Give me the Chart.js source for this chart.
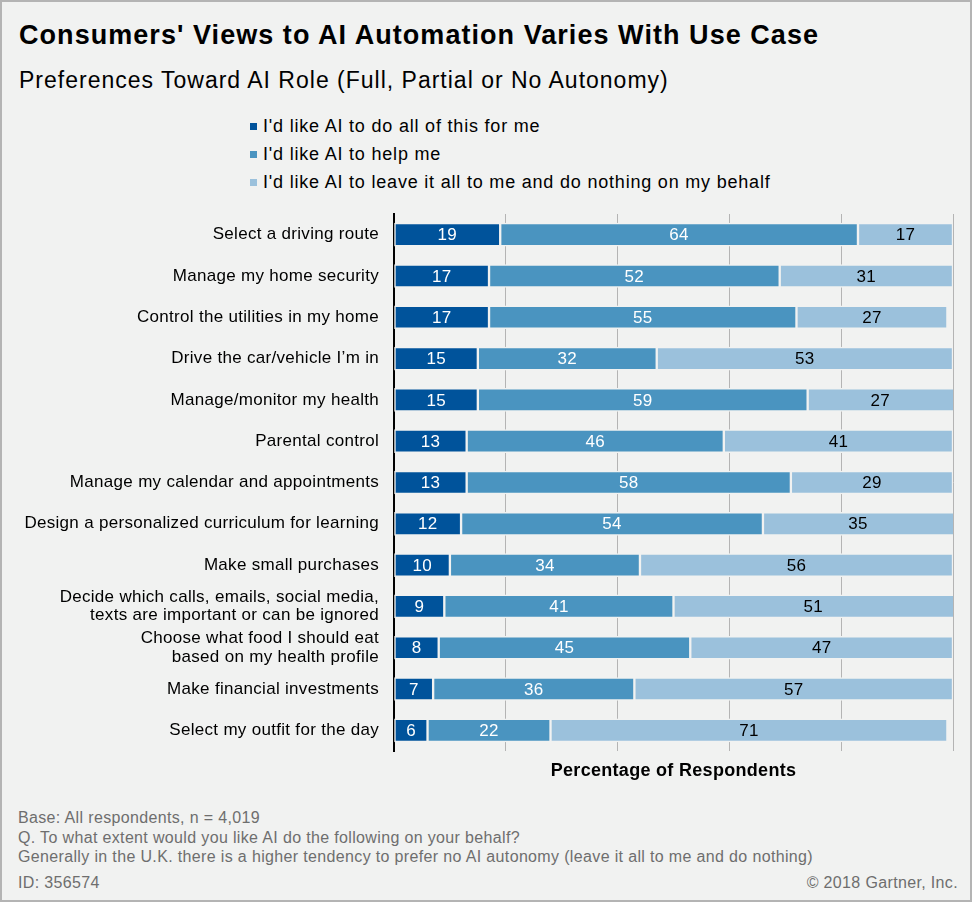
<!DOCTYPE html>
<html>
<head>
<meta charset="utf-8">
<script src="https://cdn.jsdelivr.net/npm/chart.js@4.4.1/dist/chart.umd.min.js"></script>
<style>
  html, body { margin: 0; padding: 0; background: #f1f2f1; }
  #frame {
    position: relative; width: 968px; height: 898px;
    border: 2px solid #b4b4b4; background: #f1f2f1;
    font-family: "Liberation Sans", Arial, sans-serif; color: #000;
  }
  .title { position: absolute; left: 17px; top: 18px; font-size: 27px; font-weight: bold; letter-spacing: 1.05px; white-space: nowrap; }
  .subtitle { position: absolute; left: 17px; top: 65px; font-size: 23px; letter-spacing: 1px; white-space: nowrap; }
  .legend { position: absolute; left: 248px; top: 110px; font-size: 18px; letter-spacing: 0.8px; white-space: nowrap; }
  .legend div { height: 28px; line-height: 28px; }
  .legend span { display: inline-block; width: 7px; height: 7px; margin-right: 6px; vertical-align: 2px; }
  .foot { position: absolute; left: 16px; font-size: 16px; letter-spacing: 0.35px; color: #6e6e6e; white-space: nowrap; }
  #wrap { position: absolute; left: 0; top: 198px; width: 968px; height: 600px; }
</style>
</head>
<body>
<div id="frame">
  <div class="title">Consumers' Views to AI Automation Varies With Use Case</div>
  <div class="subtitle">Preferences Toward AI Role (Full, Partial or No Autonomy)</div>
  <div class="legend" id="legend"></div>
  <div id="wrap"><canvas id="chart"></canvas></div>
  <div class="foot" style="top:807px">Base: All respondents, n = 4,019</div>
  <div class="foot" style="top:827px">Q. To what extent would you like AI do the following on your behalf?</div>
  <div class="foot" style="top:846px">Generally in the U.K. there is a higher tendency to prefer no AI autonomy (leave it all to me and do nothing)</div>
  <div class="foot" style="top:872px">ID: 356574</div>
  <div class="foot" style="top:872px; left:auto; right:12px">© 2018 Gartner, Inc.</div>
</div>
<script>
// Data
var useCases = [
    'Select a driving route',
    'Manage my home security',
    'Control the utilities in my home',
    'Drive the car/vehicle I’m in',
    'Manage/monitor my health',
    'Parental control',
    'Manage my calendar and appointments',
    'Design a personalized curriculum for learning',
    'Make small purchases',
    ['Decide which calls, emails, social media,', 'texts are important or can be ignored'],
    ['Choose what food I should eat', 'based on my health profile'],
    'Make financial investments',
    'Select my outfit for the day'
];
var seriesNames = [
    'I\'d like AI to do all of this for me',
    'I\'d like AI to help me',
    'I\'d like AI to leave it all to me and do nothing on my behalf'
];
var doAll = [19, 17, 17, 15, 15, 13, 13, 12, 10, 9, 8, 7, 6];
var helpMe = [64, 52, 55, 32, 59, 46, 58, 54, 34, 41, 45, 36, 22];
var leaveIt = [17, 31, 27, 53, 27, 41, 29, 35, 56, 51, 47, 57, 71];
var xTicks = [0, 20, 40, 60, 80, 100];

var colors = ['#00539b', '#4a94c0', '#9bc1dc'];
var labelColors = ['#ffffff', '#ffffff', '#000000'];
var bg = '#f1f2f1';
var fontFamily = '"Liberation Sans", Arial, sans-serif';

// Legend
var legendEl = document.getElementById('legend');
seriesNames.forEach(function(name, i) {
    var row = document.createElement('div');
    row.innerHTML = '<span style="background:' + colors[i] + '"></span>' + name;
    legendEl.appendChild(row);
});

// wider text spacing, like the original rendering
var spacing = {
    id: 'spacing',
    beforeDraw: function(chart) {
        chart.ctx.letterSpacing = '0.3px';
    }
};

// Value labels inside the bar segments
var valueLabels = {
    id: 'valueLabels',
    afterDatasetsDraw: function(chart) {
        var ctx = chart.ctx;
        ctx.save();
        ctx.letterSpacing = '0.3px';
        ctx.font = '17px ' + fontFamily;
        ctx.textAlign = 'center';
        ctx.textBaseline = 'middle';
        chart.data.datasets.forEach(function(ds, di) {
            var meta = chart.getDatasetMeta(di);
            meta.data.forEach(function(bar, i) {
                var left = Math.min(bar.x, bar.base);
                var right = Math.min(Math.max(bar.x, bar.base), chart.chartArea.right);
                ctx.fillStyle = labelColors[di];
                ctx.fillText(ds.data[i], (left + right) / 2, bar.y + 1);
            });
        });
        ctx.restore();
    }
};

var ctx = document.getElementById('chart').getContext('2d');
var chart = new Chart(ctx, {
    type: 'bar',
    data: {
        labels: useCases,
        datasets: [doAll, helpMe, leaveIt].map(function(vals, i) {
            return {
                label: seriesNames[i],
                data: vals,
                backgroundColor: colors[i],
                borderColor: bg,
                borderWidth: 1.5,
                borderSkipped: false,
                barThickness: 23
            };
        })
    },
    plugins: [spacing, valueLabels],
    options: {
        indexAxis: 'y',
        responsive: true,
        maintainAspectRatio: false,
        animation: false,
        layout: { padding: { top: 14, right: 17, bottom: 10, left: 0 } },
        plugins: {
            legend: { display: false },
            tooltip: { enabled: false }
        },
        scales: {
            x: {
                stacked: true,
                min: 0,
                max: 100,
                afterBuildTicks: function(scale) {
                    scale.ticks = xTicks.map(function(v) { return { value: v }; });
                },
                ticks: { display: false },
                grid: { color: '#b4b4b4', lineWidth: 1, drawTicks: false },
                border: { display: false },
                title: {
                    display: true,
                    text: 'Percentage of Respondents',
                    color: '#000',
                    font: { family: fontFamily, size: 18, weight: 'bold' },
                    padding: { top: 10, bottom: 8 }
                },
                afterFit: function(scale) { scale.height = 39; }
            },
            y: {
                stacked: true,
                grid: { display: false, drawTicks: false },
                border: { display: true, color: '#000', width: 2 },
                ticks: {
                    color: '#000',
                    padding: 15,
                    font: { family: fontFamily, size: 17, lineHeight: 1.1 }
                },
                afterFit: function(scale) {
                    scale.width = 392;
                    scale.paddingTop = 0;
                    scale.paddingBottom = 0;
                }
            }
        }
    }
});
</script>
</body>
</html>
